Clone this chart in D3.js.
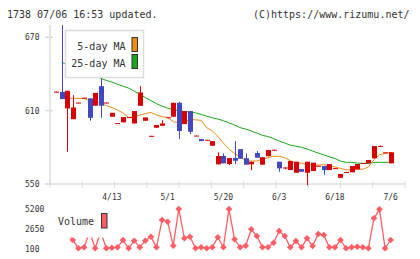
<!DOCTYPE html>
<meta charset="utf-8">
<style>
    body {
        margin: 0;
        background: #fff;
    }

    svg {
        display: block;
    }

    text {
        font-family: "DejaVu Sans Mono", monospace;
        fill: #333;
    }

    .axisLine {
        stroke: #dcdcdc;
        stroke-width: 1.5;
    }
</style>

<body>
    <svg width="420" height="259"></svg>
    <script src="https://d3js.org/d3.v7.min.js"></script>
    <script>
        // daily prices, oldest first (red = close above open, blue = close below open)
        var opens = [625, 625.3, 611.8, 603, 616, 620, 620, 614, 630, 616.2, 605, 599.4, 600.4, 604.3, 599.5, 613.9,
            601.7, 589, 596, 597.6, 604.2, 605, 616.4, 599, 609.6, 589.2, 586.7, 585.7, 581.3, 566.1, 572.9,
            566.3, 571.2, 578.5, 571.1, 566.1, 575.3, 565.8, 572.7, 577.6, 568.2, 563.1, 561.4, 559.2, 562.2,
            559.2, 560.6, 564.5, 564.7, 561.4, 562.6, 555.1, 559.4, 559.6, 562, 566.8, 566.9, 571, 580.8,
            575.7, 566.9];
        var closes = [625.5, 619.4, 626.2, 612.6, 616.6, 620.6, 604.1, 624.5, 614, 616.6, 608.2, 599.8, 604.7, 604.7,
            609.6, 624.8, 604.4, 589.4, 598.2, 599.5, 604.6, 616.4, 593.3, 609.6, 592.7, 589.6, 585.1, 586.1,
            585.1, 572.9, 566.9, 571.2, 569, 570.7, 565.8, 568.2, 571.5, 571.9, 577.8, 578, 562.8, 563.5,
            568.8, 568.2, 560, 568.2, 567.4, 564.9, 561.4, 566.3, 563, 558.2, 559.8, 564.7, 566.3, 567.2,
            569.6, 581, 581.2, 575.9, 575.9];
        var highs = [625.5, 690, 626.2, 622.6, 616.6, 620.6, 620, 624.5, 636.3, 616.6, 608.2, 599.8, 604.7, 604.7,
            609.6, 630, 604.4, 589.4, 598.2, 602.2, 604.6, 616.4, 617.2, 609.6, 609.6, 589.6, 586.7, 586.1,
            585.1, 575.9, 575, 571.2, 585.1, 578.5, 575, 568.2, 576.9, 571.9, 577.8, 578, 568.2, 563.5,
            568.8, 568.2, 562.2, 568.2, 567.4, 564.9, 564.7, 566.3, 563, 558.2, 559.8, 564.7, 566.3, 567.2,
            569.6, 581, 581.2, 575.9, 575.9];
        var lows = [625, 619.4, 576.4, 603, 616, 620, 601.7, 614, 604.1, 616.2, 605, 599.4, 600.4, 604.3, 599.5,
            613.9, 601.7, 589, 596, 597.6, 604.2, 605, 586.7, 599, 590.8, 589.2, 585.1, 585.7, 581.3, 566.1,
            566.9, 565.5, 566.2, 570.7, 565.8, 561.4, 571.5, 565.8, 572.7, 577.6, 560, 562, 561.4, 559.2,
            560, 549, 560.6, 564.5, 557.5, 561.4, 562.6, 555.1, 559.4, 559.6, 562, 566.8, 566.9, 571,
            580.8, 575.7, 566.9];
        var volumes = [2500, 2000, 2140, 1248, 190, 317, 2270, 190, 2270, 190, 266, 317, 1248, 190, 1158, 317,
            1158, 1668, 317, 3798, 3580, 521, 5200, 1464, 1668, 190, 317, 190, 317, 1592, 317, 5180, 1337,
            317, 521, 2612, 1758, 317, 317, 903, 2395, 1758, 317, 1120, 317, 1464, 483, 2012, 1885, 317,
            317, 1248, 190, 317, 393, 317, 190, 4014, 5160, 190, 1248];
        var ma5 = [null, 620.5, 620.3, 620, 620, 619.8, 618, 617, 616.2, 614, 612.5, 610.5, 608, 604.5, 605,
            606.3, 607.5, 608.5, 606.5, 605, 604.4, 601, 600, 601, 602.5, 602.5, 602, 596, 593.5, 589,
            583.5, 578.5, 575, 572, 569, 568.8, 568.8, 570.3, 571.5, 572.7, 572.7, 571.5, 569, 567.4, 567,
            566, 565.5, 565.5, 565.8, 564.8, 564, 562.8, 561.5, 561.7, 562, 562, 564, 569.8, 574, 575, 575.8];
        var ma25 = [null, 649.3, 648, 646.5, 645, 643, 641, 639, 636.3, 634.7, 633.3, 631.6, 630, 628.4, 625.9,
            623.5, 620.6, 618.2, 615.7, 613.7, 612, 610.8, 610, 609.2, 608.8, 608.2, 606.9, 605.5, 604.1,
            603.1, 601.8, 600, 598.2, 596.1, 594.9, 593.3, 591.6, 589.8, 588.8, 587.1, 585.1, 583.5, 581.7,
            580.9, 580, 578.6, 576.9, 575.3, 573.8, 572.2, 570.8, 568.8, 567.7, 567.7, 567.1, 566.9, 566.9,
            567.6, 567.7, 567.7, 567.7];

        var dateIdx = [10, 20, 30, 40, 50, 60];
        var dateLabels = ["4/13", "5/1", "5/20", "6/3", "6/18", "7/6"];
        var priceTicks = [550, 610, 670];
        var volumeTicks = [100, 2650, 5200];

        var red = "#d80000";
        var blue = "#4248c0";
        var orange = "#f08c10";
        var green = "#16a816";
        var volColor = "#ff5c64";

        var svg = d3.select("svg");
        var n = closes.length;

        var x = d3.scaleLinear().domain([-1.1, 62.57]).range([50, 405]);
        var y = d3.scaleLinear().domain([550, 680]).range([184, 25]);
        var vy = d3.scaleLinear().domain([100, 5200]).range([249, 209]);
        var xt = d3.scaleLinear().domain([0, 11]).range([50, 405]);

        // header
        svg.append("text").attr("x", 7).attr("y", 18).style("font-size", "10px")
            .text("1738 07/06 16:53 updated.");
        svg.append("text").attr("x", 409.5).attr("y", 18).style("font-size", "10px")
            .attr("text-anchor", "end").text("(C)https://www.rizumu.net/");

        // axes
        svg.append("line").attr("class", "axisLine")
            .attr("x1", 50).attr("x2", 50).attr("y1", 25).attr("y2", 184);
        svg.append("line").attr("class", "axisLine")
            .attr("x1", 45).attr("x2", 405).attr("y1", 184).attr("y2", 184);

        svg.append("g").selectAll("line")
            .data(priceTicks)
            .enter().append("line").attr("class", "axisLine")
            .attr("x1", 45).attr("x2", 53)
            .attr("y1", function(d) { return y(d); })
            .attr("y2", function(d) { return y(d); });

        svg.append("g").selectAll("text")
            .data(priceTicks)
            .enter().append("text")
            .attr("x", 25)
            .attr("y", function(d) { return y(d) + 3; })
            .style("font-size", "8px")
            .text(function(d) { return d; });

        svg.append("g").selectAll("line")
            .data(d3.range(12))
            .enter().append("line").attr("class", "axisLine")
            .style("stroke-width", 1)
            .attr("x1", function(d) { return xt(d); })
            .attr("x2", function(d) { return xt(d); })
            .attr("y1", 181).attr("y2", 188);

        svg.append("g").selectAll("text")
            .data(dateIdx)
            .enter().append("text")
            .attr("x", function(d) { return x(d); })
            .attr("y", 200)
            .attr("text-anchor", "middle")
            .style("font-size", "8px")
            .text(function(d, i) { return dateLabels[i]; });

        // price panel
        svg.append("clipPath").attr("id", "clip")
            .append("rect").attr("x", 50).attr("y", 25).attr("width", 360).attr("height", 161);

        var plot = svg.append("g").attr("clip-path", "url(#clip)");

        var maLine = function(arr) {
            return d3.line()
                .defined(function(d, i) { return arr[i] != null; })
                .x(function(d, i) { return x(i); })
                .y(function(d, i) { return y(arr[i]); })(arr);
        };

        plot.append("path").attr("d", maLine(ma25))
            .attr("fill", "none").attr("stroke", green).attr("stroke-width", 1);
        plot.append("path").attr("d", maLine(ma5))
            .attr("fill", "none").attr("stroke", orange).attr("stroke-width", 1);

        var candle = plot.append("g").selectAll("g")
            .data(d3.range(n))
            .enter().append("g")
            .attr("fill", function(i) { return closes[i] >= opens[i] ? red : blue; })
            .attr("stroke", function(i) { return closes[i] >= opens[i] ? red : blue; });

        candle.append("line")
            .attr("x1", function(i) { return Math.round(x(i)) + 0.5; })
            .attr("x2", function(i) { return Math.round(x(i)) + 0.5; })
            .attr("y1", function(i) { return y(highs[i]); })
            .attr("y2", function(i) { return y(lows[i]); })
            .attr("stroke-width", 1);

        candle.append("rect")
            .attr("stroke", "none")
            .attr("x", function(i) { return Math.round(x(i)) - 2; })
            .attr("width", 5)
            .attr("y", function(i) { return y(Math.max(opens[i], closes[i])); })
            .attr("height", function(i) {
                return Math.max(1, Math.abs(y(opens[i]) - y(closes[i])));
            });

        // price legend
        var lg = svg.append("g");
        lg.append("rect").attr("x", 65.5).attr("y", 30.5).attr("width", 78).attr("height", 47)
            .attr("fill", "#fff").attr("stroke", "#dcdcdc").attr("stroke-width", 1.5);
        lg.append("text").attr("x", 125.5).attr("y", 50).attr("text-anchor", "end")
            .style("font-size", "10px").text("5-day MA");
        lg.append("text").attr("x", 125.5).attr("y", 66.5).attr("text-anchor", "end")
            .style("font-size", "10px").text("25-day MA");
        lg.append("rect").attr("x", 132).attr("y", 37.5).attr("width", 5.5).attr("height", 14)
            .attr("fill", orange).attr("stroke", "#333");
        lg.append("rect").attr("x", 132).attr("y", 54.5).attr("width", 5.5).attr("height", 14)
            .attr("fill", green).attr("stroke", "#333");

        // volume panel
        svg.append("g").selectAll("text")
            .data(volumeTicks)
            .enter().append("text")
            .attr("x", 25)
            .attr("y", function(d) { return vy(d) + 3; })
            .style("font-size", "8px")
            .text(function(d) { return d; });

        var volLine = d3.line()
            .x(function(d, i) { return x(i); })
            .y(function(d) { return vy(d); });

        svg.append("path").attr("d", volLine(volumes))
            .attr("fill", "none").attr("stroke", volColor).attr("stroke-width", 1.3);

        svg.append("g").selectAll("path")
            .data(volumes)
            .enter().append("path")
            .attr("d", d3.symbol().type(d3.symbolSquare).size(22))
            .attr("transform", function(d, i) {
                return "translate(" + x(i) + "," + vy(d) + ") rotate(45)";
            })
            .attr("fill", volColor);

        var vlg = svg.append("g");
        vlg.append("rect").attr("x", 53).attr("y", 204).attr("width", 58).attr("height", 33.5)
            .attr("fill", "#fff");
        vlg.append("text").attr("x", 58).attr("y", 225).style("font-size", "10px").text("Volume");
        vlg.append("rect").attr("x", 101.5).attr("y", 213.5).attr("width", 5.5).attr("height", 14.5)
            .attr("fill", volColor).attr("stroke", "#333");
    </script>
</body>
